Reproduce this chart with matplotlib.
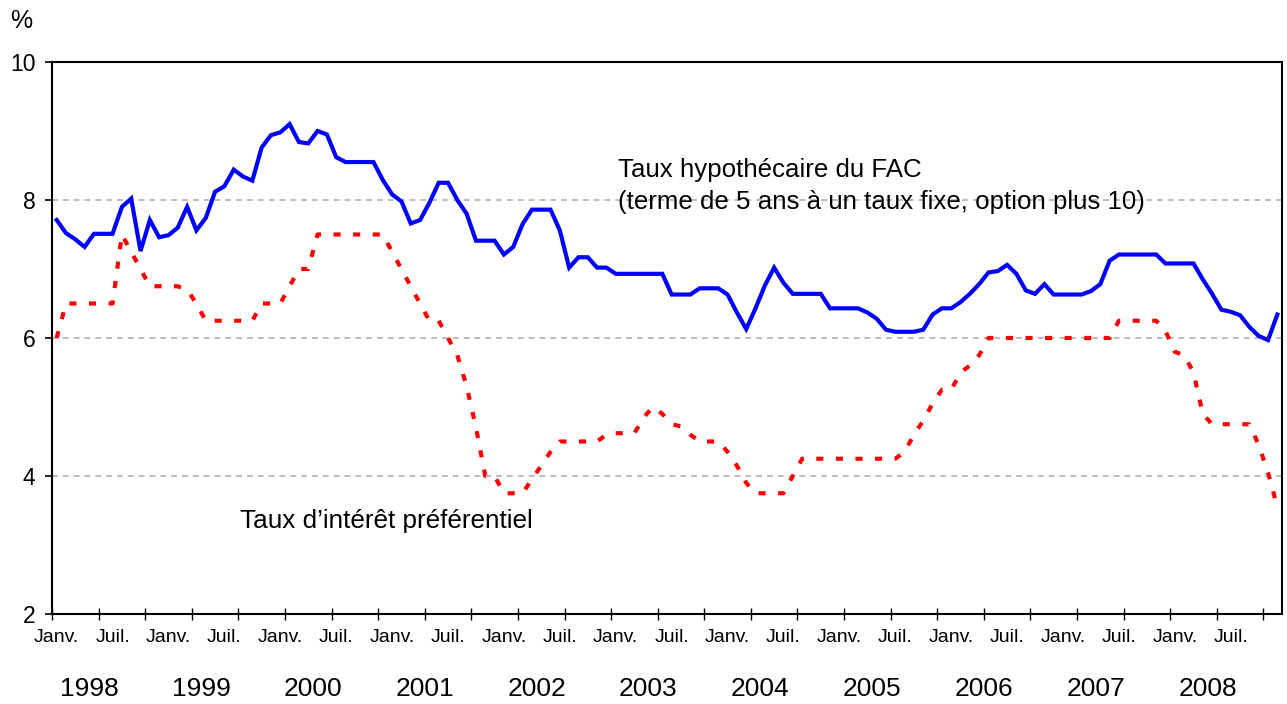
import numpy as np
import matplotlib
matplotlib.use("Agg")
from matplotlib import pyplot as plt
from matplotlib.transforms import blended_transform_factory

# monthly data, Janv. 1998 - Dec. 2008
fac_rate = [7.71, 7.52, 7.43, 7.32, 7.51, 7.51, 7.51, 7.90, 8.02, 7.26, 7.71, 7.46,
            7.49, 7.60, 7.90, 7.56, 7.74, 8.12, 8.20, 8.44, 8.34, 8.28, 8.76, 8.94,
            8.98, 9.10, 8.84, 8.82, 9.00, 8.95, 8.62, 8.55, 8.55, 8.55, 8.55, 8.29,
            8.08, 7.98, 7.66, 7.71, 7.96, 8.25, 8.25, 8.00, 7.80, 7.41, 7.41, 7.41,
            7.21, 7.32, 7.65, 7.86, 7.86, 7.86, 7.56, 7.02, 7.17, 7.17, 7.02, 7.02,
            6.93, 6.93, 6.93, 6.93, 6.93, 6.93, 6.63, 6.63, 6.63, 6.72, 6.72, 6.72,
            6.63, 6.37, 6.13, 6.43, 6.76, 7.02, 6.80, 6.64, 6.64, 6.64, 6.64, 6.43,
            6.43, 6.43, 6.43, 6.37, 6.28, 6.12, 6.09, 6.09, 6.09, 6.12, 6.34, 6.43,
            6.43, 6.52, 6.64, 6.78, 6.95, 6.97, 7.06, 6.93, 6.69, 6.64, 6.78, 6.63,
            6.63, 6.63, 6.63, 6.68, 6.78, 7.12, 7.21, 7.21, 7.21, 7.21, 7.21, 7.08,
            7.08, 7.08, 7.08, 6.85, 6.64, 6.41, 6.38, 6.33, 6.16, 6.03, 5.97, 6.34]

prime_rate = [6.00, 6.50, 6.50, 6.50, 6.50, 6.50, 6.50, 7.50, 7.25, 7.00, 6.75, 6.75,
              6.75, 6.75, 6.70, 6.50, 6.25, 6.25, 6.25, 6.25, 6.25, 6.25, 6.50, 6.50,
              6.50, 6.75, 7.00, 7.00, 7.50, 7.50, 7.50, 7.50, 7.50, 7.50, 7.50, 7.50,
              7.25, 7.00, 6.75, 6.50, 6.25, 6.25, 6.00, 5.75, 5.30, 4.70, 4.00, 4.00,
              3.75, 3.75, 3.75, 3.95, 4.15, 4.35, 4.50, 4.50, 4.50, 4.50, 4.50, 4.60,
              4.62, 4.62, 4.62, 4.85, 5.00, 4.90, 4.75, 4.72, 4.60, 4.50, 4.50, 4.50,
              4.35, 4.15, 3.90, 3.75, 3.75, 3.75, 3.75, 4.00, 4.25, 4.25, 4.25, 4.25,
              4.25, 4.25, 4.25, 4.25, 4.25, 4.25, 4.25, 4.35, 4.60, 4.80, 5.05, 5.25,
              5.25, 5.50, 5.60, 5.75, 6.00, 6.00, 6.00, 6.00, 6.00, 6.00, 6.00, 6.00,
              6.00, 6.00, 6.00, 6.00, 6.00, 6.00, 6.25, 6.25, 6.25, 6.25, 6.25, 6.10,
              5.80, 5.75, 5.50, 4.90, 4.75, 4.75, 4.75, 4.75, 4.75, 4.45, 4.05, 3.55]

years = list(range(1998, 2009))
month_labels = ['Janv.', 'Juil.']
y_ticks = [2, 4, 6, 8, 10]

plt.rcParams['font.family'] = ['Liberation Sans', 'DejaVu Sans']

fig = plt.figure(figsize=(12.87, 7.04), dpi=100)
ax = fig.add_axes([52/1287, 1 - 614/704, 1230/1287, 552/704])

x = np.arange(len(fac_rate)) + 0.5

for yy in [4, 6, 8, 10]:
    ax.axhline(yy, color='#b0b0b0', lw=1.2, dashes=(3.5, 3.0), zorder=1)

ax.plot(x, fac_rate, color='#0000ff', lw=3.0, solid_joinstyle='miter', zorder=3)
ax.plot(x, prime_rate, color='#ff0000', lw=3.0, dashes=(1.7, 3.0), zorder=3)

ax.set_xlim(0, len(fac_rate))
ax.set_ylim(2, 10)

ax.set_yticks(y_ticks)
ax.set_yticklabels([str(v) for v in y_ticks], fontsize=16.5)
ax.tick_params(axis='y', direction='out', length=5, width=1.2, pad=7)

ax.set_xticks(np.arange(0, len(fac_rate), 5))
ax.set_xticklabels([])
ax.tick_params(axis='x', direction='inout', length=8, width=1.0)

for sp in ax.spines.values():
    sp.set_linewidth(1.5)
    sp.set_color('black')

trans = blended_transform_factory(ax.transData, fig.transFigure)
for n, yr in enumerate(years):
    ax.text(12 * n + 0.5, 1 - 637/704, month_labels[0], transform=trans,
            ha='center', va='center', fontsize=14)
    ax.text(12 * n + 6.5, 1 - 637/704, month_labels[1], transform=trans,
            ha='center', va='center', fontsize=14)
    ax.text(12 * n + 4.0, 1 - 689/704, str(yr), transform=trans,
            ha='center', va='center', fontsize=19)

fig.text(21/1287, 1 - 21/704, '%', ha='center', va='center', fontsize=18)

ax.text(60.7, 8.43, 'Taux hypothécaire du FAC', ha='left', va='center', fontsize=18.6)
ax.text(60.7, 7.97, '(terme de 5 ans à un taux fixe, option plus 10)',
        ha='left', va='center', fontsize=18.6)
ax.text(20.2, 3.35, 'Taux d\u2019intérêt préférentiel', ha='left', va='center', fontsize=18.8)

fig.savefig('out.png', dpi=100)
